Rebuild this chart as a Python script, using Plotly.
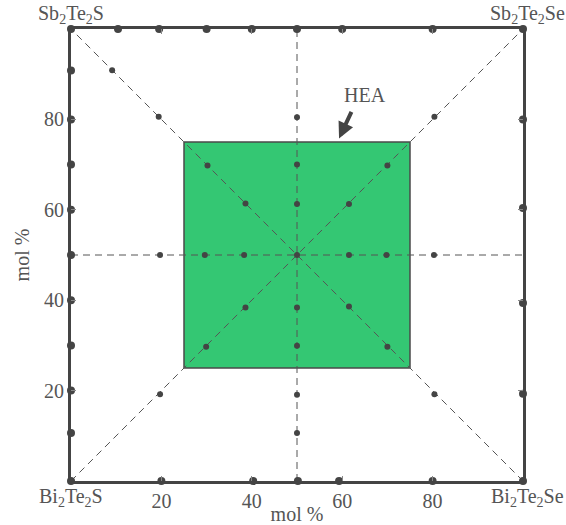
import plotly.graph_objects as go

# ---- data (mol %) ----
corners_x = [0, 100, 100, 0]
corners_y = [0, 0, 100, 100]
corner_names = ["Bi<sub>2</sub>Te<sub>2</sub>S", "Bi<sub>2</sub>Te<sub>2</sub>Se",
                "Sb<sub>2</sub>Te<sub>2</sub>Se", "Sb<sub>2</sub>Te<sub>2</sub>S"]

top_x = [10.4, 19.5, 30, 40, 50, 60, 80]
left_y = [90.8, 80, 70, 60, 50, 40, 30, 20, 10.6]
right_y = [80, 60.4, 39.4, 19.3]
bottom_x = [20, 40.3, 50.2, 59.3, 80]

vert_y = [80.5, 70, 61.3, 50, 38.4, 29.9, 19.1, 10.6]
horiz_x = [19.7, 29.6, 38.3, 61.5, 69.8, 80.3]
diag_x = [9.1, 19.4, 30.2, 38.6, 61.5, 70, 80.4, 38.6, 29.9, 19.7, 61.5, 70, 80.4]
diag_y = [90.9, 80.6, 69.8, 61.4, 61.3, 69.8, 80.6, 38.4, 29.7, 19.2, 38.6, 29.7, 19.2]

hea_range = [25, 75]
center = 50
tick_vals = [20, 40, 60, 80]
hea_text_pos = (65, 85.5)
hea_arrow_head = (59.3, 75.8)
hea_arrow_tail = (62.2, 82.0)

DARK = "#444444"
TXT = "#555555"
FONT = "Liberation Serif, Times New Roman, serif"
FS = 20

fig = go.Figure()

# dashed guide lines
guides = [
    ([corners_x[0], corners_x[2]], [corners_y[0], corners_y[2]]),
    ([corners_x[1], corners_x[3]], [corners_y[1], corners_y[3]]),
    ([center, center], [0, 100]),
    ([0, 100], [center, center]),
]
for gx, gy in guides:
    fig.add_trace(go.Scatter(x=gx, y=gy, mode="lines",
                             line=dict(color="#555555", width=1, dash="7px,5px"),
                             hoverinfo="skip", showlegend=False))

# inner points
in_x = [center] * len(vert_y) + horiz_x + diag_x
in_y = vert_y + [center] * len(horiz_x) + diag_y
fig.add_trace(go.Scatter(x=in_x, y=in_y, mode="markers",
                         marker=dict(size=6, color=DARK),
                         cliponaxis=False, showlegend=False))

# edge points
e_x = corners_x + top_x + [0] * len(left_y) + [100] * len(right_y) + bottom_x
e_y = corners_y + [100] * len(top_x) + left_y + right_y + [0] * len(bottom_x)
fig.add_trace(go.Scatter(x=e_x, y=e_y, mode="markers",
                         marker=dict(size=8, color=DARK),
                         cliponaxis=False, showlegend=False))

# HEA region
fig.add_shape(type="rect", x0=hea_range[0], x1=hea_range[1],
              y0=hea_range[0], y1=hea_range[1],
              fillcolor="#34C773", line=dict(color="#4a4a4a", width=1.5),
              layer="below")

# corner labels
for cx, cy, name in zip(corners_x, corners_y, corner_names):
    fig.add_annotation(x=cx, y=cy, text=name, showarrow=False,
                       xanchor="center",
                       yanchor="bottom" if cy == 100 else "top",
                       yshift=0 if cy == 100 else -2,
                       xshift=4 if cx == 100 else 0,
                       font=dict(family=FONT, size=FS, color=TXT))

# HEA label + arrow
fig.add_annotation(x=hea_text_pos[0], y=hea_text_pos[1], text="HEA", showarrow=False,
                   font=dict(family=FONT, size=FS, color=TXT))
fig.add_annotation(x=hea_arrow_head[0], y=hea_arrow_head[1], text="",
                   ax=hea_arrow_tail[0], ay=hea_arrow_tail[1], axref="x", ayref="y",
                   showarrow=True, arrowhead=2, arrowsize=0.8, arrowwidth=4,
                   arrowcolor=DARK)

axis_common = dict(range=[0, 100], tickvals=tick_vals, ticks="inside", ticklen=5,
                   tickcolor="#888888", tickwidth=1, showgrid=False, zeroline=False,
                   showline=True, linecolor=DARK, linewidth=3, mirror="allticks",
                   tickfont=dict(family=FONT, size=FS, color=TXT))

fig.update_layout(
    width=566, height=525,
    margin=dict(l=71, r=43, t=29, b=44),
    plot_bgcolor="white", paper_bgcolor="white",
    xaxis=dict(**axis_common,
               title=dict(text="mol %", standoff=0,
                          font=dict(family=FONT, size=FS, color=TXT))),
    yaxis=dict(**axis_common,
               title=dict(text="mol %", standoff=10,
                          font=dict(family=FONT, size=FS, color=TXT))),
)
fig.update_xaxes(automargin=False)
fig.update_yaxes(automargin=False)

fig.write_html("out.html")
